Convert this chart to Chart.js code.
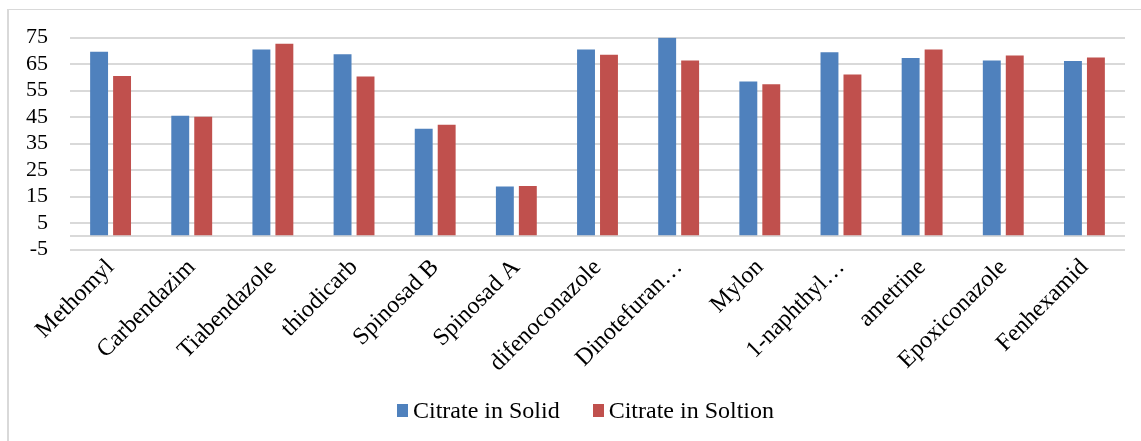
<!DOCTYPE html>
<html>
<head>
<meta charset="utf-8">
<script src="https://cdn.jsdelivr.net/npm/chart.js@4"></script>
<style>
    body { margin: 0; background: #fff; width: 1141px; height: 441px; overflow: hidden; position: relative; font-family: "Liberation Serif", "Times New Roman", serif; }
    #moldura { position: absolute; left: 7px; top: 9px; width: 1140px; height: 440px; border-left: 2px solid #d9d9d9; border-top: 1px solid #d9d9d9; }
    #grafico { position: absolute; left: 9px; top: 10px; }
    #legenda { position: absolute; left: 397px; top: 396px; display: flex; align-items: center; font-size: 24px; line-height: 28px; color: #000; white-space: nowrap; }
    #legenda .item { display: flex; align-items: center; }
    #legenda .item + .item { margin-left: 33px; }
    #legenda .caixa { width: 11px; height: 13px; margin-right: 5px; }
</style>
</head>
<body>
<div id="moldura"></div>
<canvas id="grafico" width="1132" height="431"></canvas>
<div id="legenda"></div>
<script>
// Dados do gráfico
const categorias = ['Methomyl', 'Carbendazim', 'Tiabendazole', 'thiodicarb', 'Spinosad B', 'Spinosad A',
    'difenoconazole', 'Dinotefuran…', 'Mylon', '1-naphthyl…', 'ametrine', 'Epoxiconazole', 'Fenhexamid'];
const citratoSolido = [69.6, 45.5, 70.5, 68.7, 40.6, 18.8, 70.5, 74.9, 58.4, 69.4, 67.3, 66.3, 66.1];
const citratoSolucao = [60.5, 45.1, 72.6, 60.3, 42.1, 19.0, 68.5, 66.3, 57.4, 61.0, 70.5, 68.2, 67.5];
const nomesSeries = ['Citrate in Solid', 'Citrate in Soltion'];
const ticksY = [-5, 5, 15, 25, 35, 45, 55, 65, 75];

const cores = ['#4F81BD', '#C0504D'];
const fonteY = { family: '"Liberation Serif", "Times New Roman", serif', size: 22 };
const fonteX = { family: '"Liberation Serif", "Times New Roman", serif', size: 24 };

const ctx = document.getElementById('grafico').getContext('2d');

const grafico = new Chart(ctx, {
    type: 'bar',
    data: {
        labels: categorias,
        datasets: [
            { label: nomesSeries[0], data: citratoSolido, backgroundColor: cores[0] },
            { label: nomesSeries[1], data: citratoSolucao, backgroundColor: cores[1] }
        ]
    },
    options: {
        responsive: false,
        animation: false,
        categoryPercentage: 0.566,
        barPercentage: 0.78,
        layout: { padding: { top: 27.5, right: 16, left: 0, bottom: 0 } },
        plugins: {
            legend: { display: false },
            tooltip: { enabled: false }
        },
        scales: {
            x: {
                grid: { display: false },
                border: { display: false },
                ticks: {
                    font: fonteX,
                    color: '#000',
                    autoSkip: false,
                    maxRotation: 45,
                    minRotation: 45,
                    padding: -4
                },
                afterFit: (escala) => { escala.height = 191.5; }
            },
            y: {
                min: -5,
                max: 75,
                // marcas invisíveis só para afastar os rótulos da grade
                grid: { color: '#d9d9d9', lineWidth: 2, drawTicks: true, tickLength: 22, tickColor: 'rgba(0,0,0,0)' },
                border: { display: false },
                ticks: {
                    font: fonteY,
                    color: '#000',
                    padding: 0,
                    autoSkip: false,
                    callback: (valor) => valor === 0 ? '' : valor
                },
                // linha do zero também aparece na grade
                afterBuildTicks: (escala) => {
                    escala.ticks = ticksY.concat([0]).sort((a, b) => a - b).map(v => ({ value: v }));
                },
                afterFit: (escala) => { escala.width = 61; }
            }
        }
    }
});

// Legenda em HTML
const legenda = document.getElementById('legenda');
grafico.data.datasets.forEach((ds) => {
    legenda.innerHTML += `
        <div class="item">
            <span class="caixa" style="background:${ds.backgroundColor}"></span>
            <span>${ds.label}</span>
        </div>`;
});
</script>
</body>
</html>
